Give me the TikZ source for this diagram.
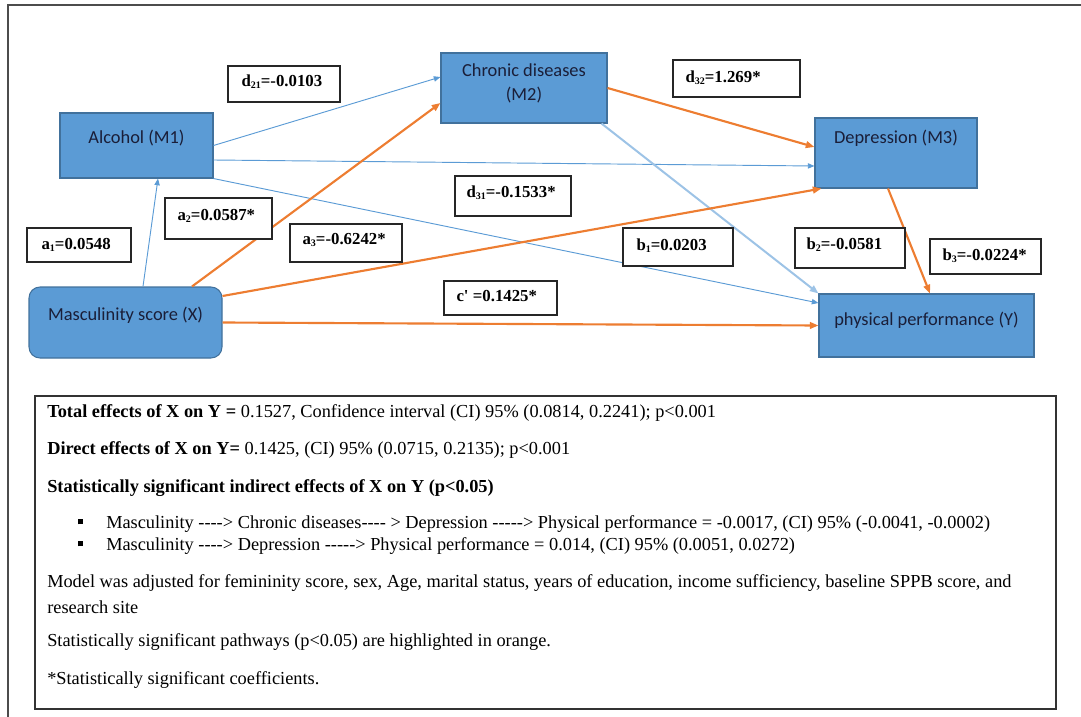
\documentclass[tikz,border=0pt]{standalone}
\usepackage{fontspec}
\usetikzlibrary{arrows.meta}
\newfontfamily\boxfont{Carlito}
\newfontfamily\notefont{Liberation Serif}
\newcommand\pxl[1]{#1*0.75pt}
\newcommand\notebullet{\makebox[21pt][l]{\raisebox{0.22em}{\rule{3.75pt}{3.75pt}}}}
\newcommand\coefsub[1]{\raisebox{-0.12em}{\fontsize{7.5}{8}\selectfont #1}}
\definecolor{varfill}{HTML}{5B9BD5}
\definecolor{varedge}{HTML}{41719C}
\definecolor{varink}{HTML}{1A1E38}
\definecolor{sigline}{HTML}{ED7D31}
\definecolor{nsline}{HTML}{5B9BD5}
\definecolor{nsthick}{HTML}{9DC3E6}
\tikzset{
  var/.style={draw=varedge, fill=varfill, line width=0.8pt, inner sep=0pt},
  vartext/.style={font=\boxfont\fontsize{13.8}{16.5}\selectfont, text=varink, align=center, inner sep=0pt},
  coef/.style={draw=black!85, fill=white, line width=1.1pt, inner sep=0pt},
  coeftext/.style={anchor=west, font=\notefont\bfseries\fontsize{12.6}{14}\selectfont, inner sep=0pt},
  sig/.style={draw=sigline, line width=1.6pt, -{Triangle[length=6.5pt,width=5pt]}},
  ns/.style={draw=nsline, line width=0.7pt, -{Triangle[length=5pt,width=4pt]}},
  nsbold/.style={draw=nsthick, line width=1.5pt, -{Triangle[length=6.5pt,width=5pt]}},
  note/.style={anchor=west, font=\notefont\fontsize{13.75}{16}\selectfont, inner sep=0pt}
}
\begin{document}
\begin{tikzpicture}[x=0.75pt, y=-0.75pt]
\useasboundingbox (0,0) rectangle (1081,717);
% outer frame
\draw[line width=1.5pt, black!70] (8,717) -- (8,5) -- (1081,5);

% variables
\node[var, minimum width=\pxl{153}, minimum height=\pxl{65}] (m1) at (136.5,145.5) {};
\node[var, rounded corners=\pxl{11}, minimum width=\pxl{193}, minimum height=\pxl{71}] (x) at (125.5,322.5) {};
\node[var, minimum width=\pxl{166}, minimum height=\pxl{70}] (m2) at (524,88) {};
\node[var, minimum width=\pxl{162}, minimum height=\pxl{70}] (m3) at (896,153) {};
\node[var, minimum width=\pxl{215}, minimum height=\pxl{63}] (y) at (926.5,325.5) {};

\node[vartext] (m1t) at ([yshift=\pxl{7.5}]m1.center) {Alcohol (M1)};
\node[vartext] (xt) at ([yshift=\pxl{7.5}]x.center) {Masculinity score (X)};
\node[vartext] (m2t) at ([yshift=\pxl{4.5}]m2.center) {Chronic diseases\\[1pt](M2)};
\node[vartext] (m3t) at ([yshift=\pxl{15}]m3.center) {Depression (M3)};
\node[vartext] (yt) at ([yshift=\pxl{5.5}]y.center) {physical performance (Y)};

% paths
\draw[ns] ([xshift=\pxl{17.5}]x.north) -- ([xshift=\pxl{21.5}]m1.south);
\draw[ns] (m1.east) -- ([yshift=\pxl{11}]m2.west);
\draw[ns] ([yshift=\pxl{-14.5}]m1.east) -- ([yshift=\pxl{-13}]m3.west);
\draw[ns] (m1.south east) -- ([yshift=\pxl{22.5}]y.west);
\draw[nsbold] ([xshift=\pxl{-6}]m2.south east) -- (y.north west);
\draw[sig] ([xshift=\pxl{66.5}]x.north) -- ([yshift=\pxl{-15}]m2.west);
\draw[sig] ([yshift=\pxl{26.5}]x.east) -- ([xshift=\pxl{7}]m3.south west);
\draw[sig] (x.east) -- (y.west);
\draw[sig] (m2.east) -- ([yshift=\pxl{6}]m3.west);
\draw[sig] ([xshift=\pxl{-8}]m3.south) -- ([xshift=\pxl{3.5}]y.north);

% coefficients
\node[coef, minimum width=\pxl{112}, minimum height=\pxl{36}] (d21) at (284,84) {};
\node[coef, minimum width=\pxl{107}, minimum height=\pxl{41}] (a2) at (218.5,218.5) {};
\node[coef, minimum width=\pxl{104}, minimum height=\pxl{34}] (a1) at (79,245) {};
\node[coef, minimum width=\pxl{112}, minimum height=\pxl{38}] (a3) at (346,243) {};
\node[coef, minimum width=\pxl{116}, minimum height=\pxl{40}] (d31) at (513,196) {};
\node[coef, minimum width=\pxl{110}, minimum height=\pxl{38}] (b1) at (678,247) {};
\node[coef, minimum width=\pxl{113}, minimum height=\pxl{34}] (cp) at (500.5,298) {};
\node[coef, minimum width=\pxl{127}, minimum height=\pxl{37}] (d32) at (736.5,78.5) {};
\node[coef, minimum width=\pxl{110}, minimum height=\pxl{40}] (b2) at (850,248) {};
\node[coef, minimum width=\pxl{111}, minimum height=\pxl{35}] (b3) at (985.5,256.5) {};

\node[coeftext] (d21t) at ([xshift=\pxl{14}, yshift=\pxl{2}]d21.west) {d\coefsub{21}=-0.0103};
\node[coeftext] (a2t) at ([xshift=\pxl{13}, yshift=\pxl{3}]a2.west) {a\coefsub{2}=0.0587*};
\node[coeftext] (a1t) at ([xshift=\pxl{15}, yshift=\pxl{0}]a1.west) {a\coefsub{1}=0.0548};
\node[coeftext] (a3t) at ([xshift=\pxl{13}, yshift=\pxl{3}]a3.west) {a\coefsub{3}=-0.6242*};
\node[coeftext] (d31t) at ([xshift=\pxl{12}, yshift=\pxl{3}]d31.west) {d\coefsub{31}=-0.1533*};
\node[coeftext] (b1t) at ([xshift=\pxl{14}, yshift=\pxl{1}]b1.west) {b\coefsub{1}=0.0203};
\node[coeftext] (cpt) at ([xshift=\pxl{13}, yshift=\pxl{2}]cp.west) {c\textquotesingle{} =0.1425*};
\node[coeftext] (d32t) at ([xshift=\pxl{13}, yshift=\pxl{1}]d32.west) {d\coefsub{32}=1.269*};
\node[coeftext] (b2t) at ([xshift=\pxl{12}, yshift=\pxl{3}]b2.west) {b\coefsub{2}=-0.0581};
\node[coeftext] (b3t) at ([xshift=\pxl{13}, yshift=\pxl{1}]b3.west) {b\coefsub{3}=-0.0224*};

% notes
\node[draw=black!80, line width=1.1pt, inner sep=0pt, minimum width=\pxl{1021}, minimum height=\pxl{313}] (notes) at (545.5,552.5) {};
\node[note] (n1) at (47,413) {\textbf{Total effects of X on Y =} 0.1527, Confidence interval (CI) 95\% (0.0814, 0.2241); p<0.001};
\node[note] (n2) at (47,450) {\textbf{Direct effects of X on Y=} 0.1425, (CI) 95\% (0.0715, 0.2135); p<0.001};
\node[note] (n3) at (47,488) {\textbf{Statistically significant indirect effects of X on Y (p<0.05)}};
\node[note] (n4) at (78,524) {\notebullet Masculinity ----> Chronic diseases---- > Depression -----> Physical performance = -0.0017, (CI) 95\% (-0.0041, -0.0002)};
\node[note] (n5) at (78,546) {\notebullet Masculinity ----> Depression -----> Physical performance = 0.014, (CI) 95\% (0.0051, 0.0272)};
\node[note] (n6) at (47,583) {Model was adjusted for femininity score, sex, Age, marital status, years of education, income sufficiency, baseline SPPB score, and};
\node[note] (n7) at (47,607) {research site};
\node[note] (n8) at (47,642) {Statistically significant pathways (p<0.05) are highlighted in orange.};
\node[note] (n9) at (47,680) {*Statistically significant coefficients.};
\end{tikzpicture}
\end{document}
